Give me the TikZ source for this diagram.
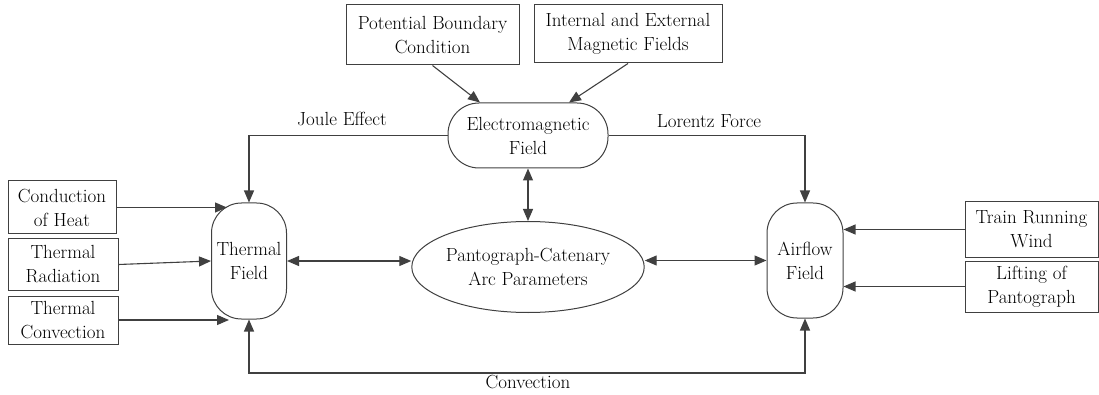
\documentclass[tikz,border=0pt]{standalone}
\usepackage{tikz}
\usetikzlibrary{arrows.meta,shapes.geometric,calc}
\definecolor{linegray}{gray}{0.25}

\begin{document}
\begin{tikzpicture}[x=1pt,y=-1pt,
  every node/.style={font=\fontsize{19}{24}\selectfont,align=center,inner sep=0pt},
  srcbox/.style={draw=linegray,line width=1pt,minimum width=110pt,minimum height=51pt},
  fieldv/.style={draw=linegray,line width=1pt,rounded corners=30pt,minimum width=75pt,minimum height=116pt},
  fieldh/.style={draw=linegray,line width=1pt,rounded corners=31pt,minimum width=160pt,minimum height=65pt},
  arcnode/.style={draw=linegray,line width=1pt,ellipse,minimum width=200pt,minimum height=91pt},
  link/.style={draw=linegray,line width=1.1pt,-{Triangle[length=12pt,width=10pt]}},
  dlink/.style={link,{Triangle[length=12pt,width=10pt]}-{Triangle[length=12pt,width=10pt]}},
]
\useasboundingbox (0,0) rectangle (1099,395);
% field nodes
\node[fieldv] (therm) at (249,261) {Thermal\\Field};
\node[fieldv,minimum width=76pt,minimum height=115pt] (air) at (805,260.5) {Airflow\\Field};
\node[fieldh] (em) at (528,135.5) {Electromagnetic\\Field};
\node[arcnode] (arc) at (528,267) {Pantograph-Catenary\\Arc Parameters};
% source boxes
\node[srcbox,minimum width=108pt,minimum height=53pt] (cond) at (62,207.5) {Conduction\\of Heat};
\node[srcbox] (rad) at (63,264.5) {Thermal\\Radiation};
\node[srcbox,minimum height=48pt] (conv) at (63,320) {Thermal\\Convection};
\node[srcbox,minimum width=173pt,minimum height=60pt] (pot) at (432.5,35) {Potential Boundary\\Condition};
\node[srcbox,minimum width=188pt,minimum height=58pt] (int) at (628,34) {Internal and External\\Magnetic Fields};
\node[srcbox,minimum width=133pt,minimum height=55pt] (wind) at (1031.5,229.5) {Train Running\\Wind};
\node[srcbox,minimum width=133pt] (lift) at (1031.5,286.5) {Lifting of\\Pantograph};
% inputs
\draw[link] (cond.east) -- ($(cond.east -| therm.west)+(16,0)$);
\draw[link] (rad.east) -- (therm.west);
\draw[link] (conv.east) -- ($(conv.east -| therm.west)+(18,0)$);
\draw[link] (pot.south) -- ($(em.north)+(-48,0)$);
\draw[link] (int.south) -- ($(em.north)+(41,0)$);
\draw[link] (wind.west) -- (wind.west -| air.east);
\draw[link] (lift.west) -- (lift.west -| air.east);
% couplings
\draw[link] (em.west) -| (therm.north);
\node[anchor=base] (joule) at (342,126) {Joule Effect};
\draw[link] (em.east) -| (air.north);
\node[anchor=base] (lorentz) at (709,128) {Lorentz Force};
\draw[dlink] (em.south) -- (arc.north);
\draw[dlink] (therm.east) -- (therm.east -| arc.west);
\draw[dlink] (arc.east |- air.west) -- (air.west);
\coordinate (cbot) at (528,373);
\draw[dlink] (therm.south) |- (cbot) -| (air.south);
\node[below=2pt] (convlbl) at (cbot) {Convection};
\end{tikzpicture}
\end{document}
